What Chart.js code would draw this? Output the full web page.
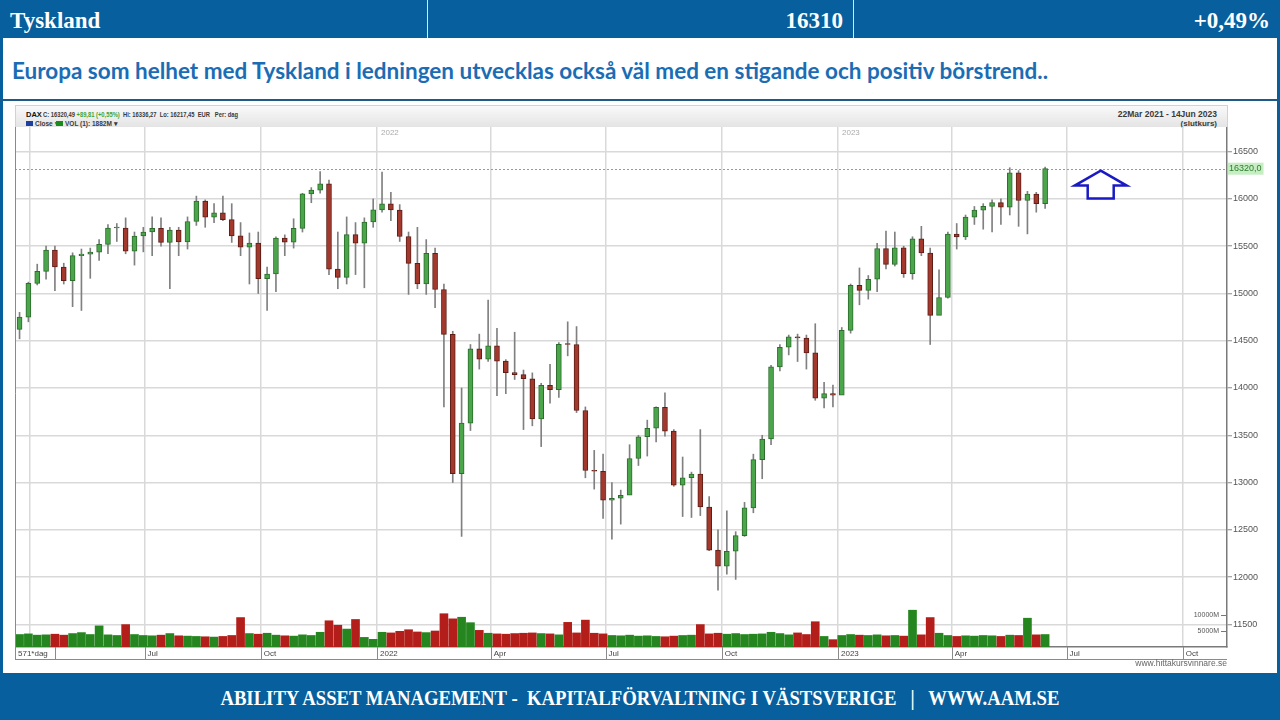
<!DOCTYPE html>
<html>
<head>
<meta charset="utf-8">
<script src="https://cdn.jsdelivr.net/npm/chart.js@4.4.0/dist/chart.umd.min.js"></script>
<style>
  html, body { margin: 0; padding: 0; }
  body { width: 1280px; height: 720px; position: relative; overflow: hidden; background: #fff; font-family: 'Liberation Sans', Arial, sans-serif; }
  .blue { position: absolute; background: #075f9d; }
  .hdr { position: absolute; top: 9px; color: #fff; font: bold 23px/23px 'Liberation Serif', 'Times New Roman', serif; white-space: nowrap; }
  .sep { position: absolute; top: 0; width: 1px; height: 38px; background: rgba(255,255,255,0.85); }
  #subtitle { position: absolute; left: 12px; top: 60px; color: #1a6db5; font: bold 22px/22px Lato, sans-serif; white-space: nowrap; display: inline-block; transform-origin: 0 0; }
  #rule { position: absolute; left: 0; top: 99px; width: 1280px; height: 2px; background: #1d5a8a; }
  #chartHead { position: absolute; left: 15px; top: 105px; width: 1211px; height: 21px; background: linear-gradient(#f9f9f9, #e4e4e4); border: 1px solid #d2d2d2; border-bottom: none; color: #3a3a3a; font: bold 7px/8px 'Liberation Sans', Arial, sans-serif; }
  #chartHead span { position: absolute; white-space: pre; }
  #head1 { transform-origin: 0 0; }
  .sq { display: inline-block; width: 7px; height: 5px; position: absolute; }
  #chartBox { position: absolute; left: 15px; top: 127px; width: 1250px; height: 533px; }
  #site { position: absolute; right: 53px; top: 658px; font: 8.5px/10px 'Liberation Sans', Arial, sans-serif; color: #666; }
  #footer { position: absolute; left: 0; top: 688px; width: 1280px; text-align: center; }
  #footer span { display: inline-block; color: #fff; font: bold 20px/20px 'Liberation Serif', 'Times New Roman', serif; white-space: pre; transform-origin: 50% 0; }
</style>
</head>
<body>
<div class="blue" style="left:0;top:0;width:1280px;height:38px;"></div>
<div class="sep" style="left:427px;"></div>
<div class="sep" style="left:853px;"></div>
<div class="hdr" style="left:10px;">Tyskland</div>
<div class="hdr" style="right:437px;">16310</div>
<div class="hdr" style="right:10px;">+0,49%</div>
<div class="blue" style="left:0;top:38px;width:3px;height:636px;"></div>
<div class="blue" style="left:1277px;top:38px;width:3px;height:636px;"></div>

<div id="subtitle">Europa som helhet med Tyskland i ledningen utvecklas också väl med en stigande och positiv börstrend..</div>
<div id="rule"></div>

<div id="chartHead">
  <span style="left:10px;top:5px;color:#111;font-size:7.5px;">DAX</span>
  <span id="head1" style="left:27px;top:5px;">C: 16320,49 <b style="color:#3aa53a;">+89,81 (+0,55%)</b>  Hi: 16336,27  Lo: 16217,45  EUR   Per: dag</span>
  <i class="sq" style="left:10px;top:15px;background:#1d3fa0;"></i>
  <span style="left:19px;top:14px;font-size:6.5px;">Close &#9662;</span>
  <i class="sq" style="left:40px;top:15px;background:#1a8a1a;"></i>
  <span style="left:49px;top:14px;font-size:6.5px;">VOL (1): 1882M &#9662;</span>
  <span style="right:10px;top:4px;font-size:8.5px;">22Mar 2021 - 14Jun 2023</span>
  <span style="right:10px;top:14px;font-size:8px;">(slutkurs)</span>
</div>

<div id="chartBox"><canvas id="daxChart" width="1250" height="533"></canvas></div>
<div id="site">www.hittakursvinnare.se</div>

<div class="blue" style="left:0;top:673px;width:1280px;height:47px;"></div>
<div id="footer"><span>ABILITY ASSET MANAGEMENT -  KAPITALFÖRVALTNING I VÄSTSVERIGE   |   WWW.AAM.SE</span></div>

<script>
// DAX weekly candles (22 Mar 2021 - 14 Jun 2023)
const startDate = '2021-03-22';
const firstOpen = 14620;
const lastPrice = 16320.0;

const closes = [
  14749, 15107, 15234, 15460, 15280, 15136, 15400, 15416, 15438, 15520,
  15693, 15693, 15448, 15608, 15650, 15688, 15540, 15670, 15544, 15761,
  15977, 15808, 15852, 15781, 15609, 15490, 15532, 15156, 15206, 15587,
  15543, 15688, 16054, 16094, 16160, 15257, 15170, 15623, 15532, 15756,
  15885, 15948, 15883, 15603, 15318, 15100, 15425, 15042, 14567, 13094,
  13628, 14413, 14305, 14446, 14284, 14163, 14142, 14098, 13674, 14027,
  13982, 14462, 14460, 13762, 13127, 13119, 12813, 12834, 12865, 13254,
  13484, 13574, 13795, 13544, 12972, 13050, 13088, 12741, 12284, 12114,
  12273, 12438, 12731, 13243, 13460, 14224, 14431, 14541, 14529, 14371,
  13893, 13941, 13924, 14610, 15087, 15033, 15150, 15476, 15307, 15482,
  15210, 15578, 15428, 14768, 14957, 15629, 15598, 15808, 15882, 15922,
  15961, 15914, 16275, 15983, 16051, 15950, 16320
];
const highs = [
  14800, 15120, 15310, 15500, 15500, 15320, 15430, 15470, 15480, 15570,
  15730, 15740, 15800, 15650, 15700, 15810, 15800, 15700, 15700, 15810,
  16030, 15990, 15950, 16030, 15950, 15750, 15640, 15650, 15280, 15600,
  15620, 15790, 16060, 16120, 16290, 16200, 15650, 15810, 15750, 15800,
  16000, 16285, 16070, 15940, 15650, 15700, 15570, 15480, 15100, 14600,
  14000, 14460, 14570, 14930, 14630, 14300, 14590, 14190, 14160, 14050,
  14250, 14480, 14700, 14650, 13800, 13340, 13300, 13000, 12920, 13400,
  13500, 13660, 13800, 13950, 13560, 13270, 13110, 13560, 12850, 12500,
  12700, 12480, 12790, 13300, 13500, 14240, 14460, 14560, 14570, 14560,
  14680, 14060, 14030, 14640, 15100, 15270, 15190, 15530, 15660, 15650,
  15500, 15600, 15710, 15480, 15250, 15650, 15740, 15830, 15920, 15950,
  15990, 16000, 16330, 16300, 16080, 16070, 16336
];
const lows = [
  14520, 14700, 15090, 15150, 15030, 15100, 14860, 14820, 15160, 15350,
  15420, 15550, 15420, 15300, 15440, 15400, 15500, 15050, 15400, 15470,
  15720, 15700, 15750, 15770, 15540, 15400, 15100, 15000, 14820, 15020,
  15400, 15480, 15650, 15960, 16060, 15200, 15050, 15100, 15200, 15060,
  15700, 15860, 15770, 15550, 14990, 15050, 14990, 14850, 13800, 13000,
  12430, 13550, 14200, 14280, 13920, 13940, 14090, 13560, 13600, 13380,
  13840, 13900, 14340, 13740, 13050, 12930, 12620, 12400, 12560, 12900,
  13180, 13280, 13430, 13490, 12960, 12640, 12630, 12650, 12280, 11860,
  12030, 11975, 12430, 12680, 13040, 13400, 14180, 14350, 14280, 14200,
  13870, 13790, 13800, 13990, 14580, 14880, 14940, 15020, 15260, 15290,
  15170, 15150, 15400, 14460, 14800, 14950, 15470, 15570, 15730, 15680,
  15650, 15730, 15830, 15710, 15630, 15860, 15900
];
// volume in millions
const volumes = [
  3900, 4100, 3700, 3800, 4000, 3700, 4200, 4500, 3900, 6600,
  3800, 3600, 7000, 3900, 3600, 3500, 3700, 4200, 3500, 3400,
  3300, 3200, 3100, 3300, 3600, 9200, 4200, 4000, 4300, 3700,
  3500, 3400, 3800, 3600, 4600, 8200, 6800, 5600, 8600, 3000,
  2400, 4600, 4400, 4900, 5400, 4700, 4500, 5000, 10400, 8800,
  9300, 7600, 5200, 4300, 4100, 4000, 4200, 4300, 4400, 4200,
  4100, 3800, 7700, 4400, 8400, 4300, 4100, 3600, 3500, 3700,
  3400, 3500, 3300, 3200, 3400, 3600, 3700, 7000, 4100, 4300,
  4000, 4200, 3900, 4000, 4100, 4600, 4200, 3800, 4400, 3900,
  7900, 3300, 2300, 3600, 3900, 3700, 3600, 3800, 3500, 3600,
  3400, 11500, 3800, 9200, 4300, 3600, 3300, 3500, 3400, 3600,
  3500, 3300, 3700, 3600, 9000, 3800, 3900
];

const tickDates = ['2021-04-01', '2021-07-01', '2021-10-01', '2022-01-01', '2022-04-01', '2022-07-01',
                   '2022-10-01', '2023-01-01', '2023-04-01', '2023-07-01', '2023-10-01'];
const tickLabels = ['', 'Jul', 'Oct', '2022', 'Apr', 'Jul', 'Oct', '2023', 'Apr', 'Jul', 'Oct'];
const firstLabel = '571*dag';
const priceTicks = [11500, 12000, 12500, 13000, 13500, 14000, 14500, 15000, 15500, 16000, 16500];
const volumeTicks = [5000, 10000];

// axis ranges (days since start / price / volume)
const xMin = -1.6, xMax = 958;
const yMin = 11260, yMax = 16761;
const volMax = 162500;
const arrowDay = 858, arrowValue = 16300;

function dayOf(s) {
  return Math.round((Date.parse(s) - Date.parse(startDate)) / 86400000);
}

const opens = closes.map((c, i) => i === 0 ? firstOpen : closes[i - 1]);
const up = closes.map((c, i) => c >= opens[i]);
const xTickValues = [xMin].concat(tickDates.map(dayOf));
const xLabels = [firstLabel].concat(tickLabels);

const wickData = closes.map((c, i) => ({ x: i * 7 + 2, y: [lows[i], highs[i]] }));
const bodyData = closes.map((c, i) => ({ x: i * 7 + 2, y: [opens[i], c] }));
const volData = volumes.map((v, i) => ({ x: i * 7 + 2, y: v }));

const AXIS_FONT = "'Liberation Sans', Arial, sans-serif";
Chart.defaults.font.family = AXIS_FONT;

function zeroPadding(s) {
  s.paddingLeft = 0; s.paddingRight = 0; s.paddingTop = 0; s.paddingBottom = 0;
}

const extras = {
  id: 'extras',
  beforeDatasetsDraw(chart) {
    const { ctx, chartArea: a, scales: { x, y } } = chart;
    ctx.save();
    // dotted line at last price
    const py = Math.round(y.getPixelForValue(lastPrice)) + 0.5;
    ctx.strokeStyle = '#9a9a9a';
    ctx.lineWidth = 1;
    ctx.setLineDash([2, 2]);
    ctx.beginPath();
    ctx.moveTo(a.left, py);
    ctx.lineTo(a.right, py);
    ctx.stroke();
    ctx.setLineDash([]);
    // year labels at top of plot
    ctx.fillStyle = '#ababab';
    ctx.font = '8px ' + AXIS_FONT;
    ctx.textBaseline = 'top';
    tickLabels.forEach((l, i) => {
      if (/^\d{4}$/.test(l)) {
        ctx.fillText(l, x.getPixelForValue(dayOf(tickDates[i])) + 4, a.top + 2);
      }
    });
    ctx.restore();
  },
  afterDraw(chart) {
    const { ctx, chartArea: a, scales: { x, y, y2 } } = chart;
    ctx.save();
    // label row boxes under the x axis
    const rowTop = a.bottom, rowBot = a.bottom + 13;
    ctx.strokeStyle = '#8a8a8a';
    ctx.lineWidth = 1;
    ctx.beginPath();
    ctx.moveTo(a.left, rowBot - 0.5);
    ctx.lineTo(a.right, rowBot - 0.5);
    ctx.moveTo(a.left + 0.5, a.top);
    ctx.lineTo(a.left + 0.5, rowBot);
    xTickValues.forEach((v, i) => {
      if (i > 0 && xLabels[i]) {
        const px = Math.round(x.getPixelForValue(v)) + 0.5;
        ctx.moveTo(px, rowTop);
        ctx.lineTo(px, rowBot);
      }
    });
    ctx.font = '8px ' + AXIS_FONT;
    const bx = Math.round(a.left + 3 + ctx.measureText(firstLabel).width + 7) + 0.5;
    ctx.moveTo(bx, rowTop);
    ctx.lineTo(bx, rowBot);
    ctx.stroke();

    // last price box on the price axis
    const py = y.getPixelForValue(lastPrice);
    ctx.font = '9px ' + AXIS_FONT;
    const txt = lastPrice.toFixed(1).replace('.', ',');
    const w = ctx.measureText(txt).width + 3;
    ctx.fillStyle = '#c6eec2';
    ctx.fillRect(a.right + 1, py - 6, w, 12);
    ctx.fillStyle = '#2f7a2f';
    ctx.textBaseline = 'middle';
    ctx.fillText(txt, a.right + 2, py);

    // volume ticks inside the plot
    ctx.font = '7px ' + AXIS_FONT;
    ctx.fillStyle = '#555';
    ctx.textAlign = 'right';
    ctx.strokeStyle = '#777';
    volumeTicks.forEach(v => {
      const vy = Math.round(y2.getPixelForValue(v)) + 0.5;
      ctx.fillText(v + 'M', a.right - 8, vy);
      ctx.beginPath();
      ctx.moveTo(a.right - 6, vy);
      ctx.lineTo(a.right - 1, vy);
      ctx.stroke();
    });

    // up arrow
    const ax = x.getPixelForValue(arrowDay), ay = y.getPixelForValue(arrowValue);
    ctx.beginPath();
    ctx.moveTo(ax, ay);
    ctx.lineTo(ax + 26, ay + 15);
    ctx.lineTo(ax + 13, ay + 15);
    ctx.lineTo(ax + 13, ay + 28);
    ctx.lineTo(ax - 13, ay + 28);
    ctx.lineTo(ax - 13, ay + 15);
    ctx.lineTo(ax - 26, ay + 15);
    ctx.closePath();
    ctx.fillStyle = '#fff';
    ctx.fill();
    ctx.strokeStyle = '#1a1ac4';
    ctx.lineWidth = 2.5;
    ctx.lineJoin = 'miter';
    ctx.stroke();
    ctx.restore();
  }
};

const ctx = document.getElementById('daxChart').getContext('2d');
new Chart(ctx, {
  type: 'bar',
  data: {
    datasets: [{
      label: 'VOL',
      data: volData,
      yAxisID: 'y2',
      backgroundColor: up.map(u => u ? '#25861f' : '#b31e1a'),
      barThickness: 8,
      grouped: false,
      order: 3
    }, {
      label: 'Range',
      data: wickData,
      yAxisID: 'y',
      backgroundColor: '#808080',
      barThickness: 1,
      grouped: false,
      order: 2
    }, {
      label: 'Close',
      data: bodyData,
      yAxisID: 'y',
      backgroundColor: up.map(u => u ? '#4ba64b' : '#a3382d'),
      borderColor: up.map(u => u ? '#2c6c2c' : '#5c1e17'),
      borderWidth: 1,
      borderSkipped: false,
      minBarLength: 1,
      barThickness: 5,
      grouped: false,
      order: 1
    }]
  },
  options: {
    responsive: false,
    animation: false,
    layout: { padding: 0, autoPadding: false },
    plugins: {
      legend: { display: false },
      tooltip: { enabled: false }
    },
    scales: {
      x: {
        type: 'linear',
        min: xMin,
        max: xMax,
        offset: false,
        grid: { offset: false, color: '#d9d9d9', lineWidth: 1.5, drawTicks: false },
        border: { display: true, color: '#7a7a7a', width: 1.5 },
        ticks: {
          autoSkip: false,
          maxRotation: 0,
          align: 'start',
          labelOffset: 3,
          padding: 2,
          color: '#444',
          font: { size: 8 },
          callback: (v, i) => xLabels[i]
        },
        afterBuildTicks: s => { s.ticks = xTickValues.map(v => ({ value: v })); },
        afterFit: s => { s.height = 13; zeroPadding(s); }
      },
      y: {
        position: 'right',
        min: yMin,
        max: yMax,
        grid: { color: '#d9d9d9', lineWidth: 1.5, drawTicks: true, tickLength: 5, tickColor: '#888', tickWidth: 1 },
        border: { display: true, color: '#7a7a7a', width: 1.5 },
        ticks: { padding: 1, color: '#555', font: { size: 9 }, callback: v => String(v) },
        afterBuildTicks: s => { s.ticks = priceTicks.map(v => ({ value: v })); },
        afterFit: s => { s.width = 38; zeroPadding(s); }
      },
      y2: {
        display: false,
        min: 0,
        max: volMax
      }
    }
  },
  plugins: [extras]
});

// squeeze text blocks to the widths they take in the slide
function fitWidth(el, target) {
  const w = el.getBoundingClientRect().width;
  el.style.transform = 'scaleX(' + (target / w) + ')';
}
fitWidth(document.getElementById('subtitle'), 1036);
fitWidth(document.querySelector('#footer span'), 839);
fitWidth(document.getElementById('head1'), 195);
</script>
</body>
</html>
